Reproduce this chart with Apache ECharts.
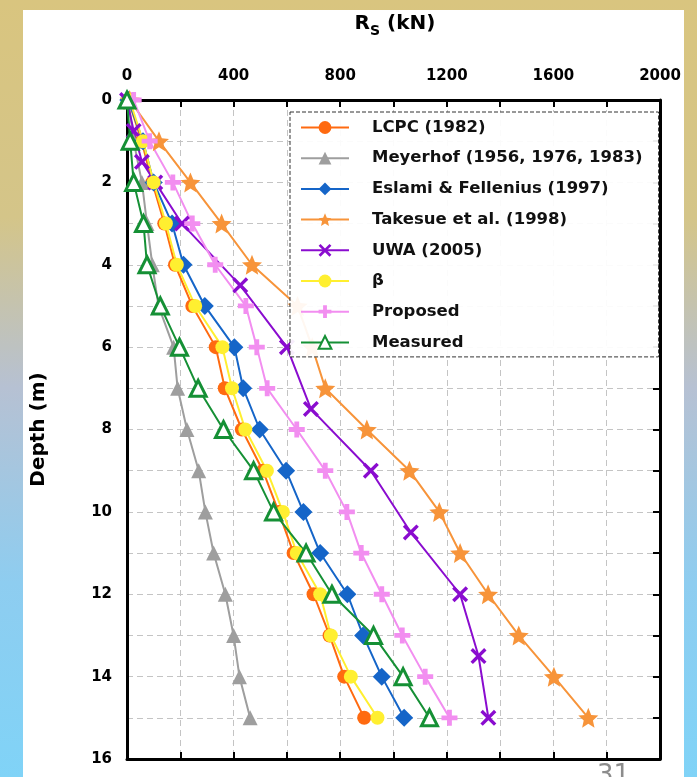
<!DOCTYPE html>
<html>
<head>
<meta charset="utf-8">
<title>Rs vs depth</title>
<script src="https://cdn.jsdelivr.net/npm/echarts@6/dist/echarts.min.js"></script>
<style>
html, body { margin: 0; padding: 0; }
body {
    width: 697px; height: 777px; overflow: hidden; position: relative;
    background: linear-gradient(180deg, #d9c57f 0%, #d4c589 28%, #b6c1d3 50%, #8ecdf0 75%, #80d3f7 100%);
}
#paper { position: absolute; left: 23px; top: 10px; width: 661px; height: 767px; background: #fff; }
#chart { position: absolute; left: 0; top: 0; width: 697px; height: 777px; }
</style>
</head>
<body>
<div id="paper"></div>
<div id="chart"></div>
<script>
// depth (m) of every reading, UWA was sampled every 1.5 m
const depths = [0, 1, 2, 3, 4, 5, 6, 7, 8, 9, 10, 11, 12, 13, 14, 15]
const uwaDepths = [0, 0.75, 1.5, 2, 3, 4.5, 6, 7.5, 9, 10.5, 12, 13.5, 15]

// shaft resistance Rs (kN)
const lcpc     = [5, 55, 95, 140, 180, 245, 333, 367, 431, 510, 569, 625, 700, 760, 815, 890]
const meyerhof = [5, 25, 56, 75, 95, 118, 175, 190, 225, 269, 294, 325, 369, 400, 422, 462]
const eslami   = [5, 60, 100, 169, 212, 292, 403, 436, 498, 597, 662, 725, 827, 886, 956, 1040]
const takesue  = [10, 120, 238, 355, 469, 640, 695, 744, 900, 1060, 1172, 1250, 1355, 1470, 1602, 1731]
const uwa      = [0, 25, 56, 106, 206, 425, 600, 690, 915, 1065, 1250, 1319, 1356]
const beta     = [10, 60, 100, 146, 187, 256, 358, 394, 444, 525, 585, 637, 725, 765, 840, 940]
const proposed = [25, 85, 172, 245, 331, 446, 487, 526, 637, 744, 825, 879, 956, 1033, 1119, 1210]
const measured = [0, 12, 25, 62, 75, 125, 197, 267, 362, 475, 550, 672, 769, 925, 1036, 1135]

const xSymbol = 'path://M3,0 L10,7 L17,0 L20,3 L13,10 L20,17 L17,20 L10,13 L3,20 L0,17 L7,10 L0,3 Z'
const plusSymbol = 'path://M7,0 H13 V7 H20 V13 H13 V20 H7 V13 H0 V7 H7 Z'
const starSymbol = 'path://M10,0 L12.9,7 L20,7.6 L14.6,12.3 L16.2,19.5 L10,15.6 L3.8,19.5 L5.4,12.3 L0,7.6 L7.1,7 Z'

const font = 'DejaVu Sans, sans-serif'

function makeSeries(name, vals, dep, color, symbol, size, extra) {
    return Object.assign({
        name: name,
        type: 'line',
        data: vals.map((v, i) => [v, dep[i]]),
        symbol: symbol,
        symbolSize: size,
        lineStyle: { color: color, width: 2 },
        itemStyle: { color: color },
        z: 3
    }, extra || {})
}

const chart = echarts.init(document.getElementById('chart'))
const option = {
    animation: false,
    title: {
        text: '{a|R}{b|S}{a| (kN)}',
        left: 390,
        top: 9,
        textAlign: 'center',
        textStyle: {
            rich: {
                a: { fontFamily: font, fontSize: 20, fontWeight: 'bold', color: '#000', lineHeight: 24, verticalAlign: 'top' },
                b: { fontFamily: font, fontSize: 14, fontWeight: 'bold', color: '#000', lineHeight: 24, verticalAlign: 'bottom', padding: [11, 0, 0, 0] }
            }
        }
    },
    grid: { left: 127, top: 100, width: 533, height: 659, containLabel: false },
    legend: {
        orient: 'vertical',
        left: 290,
        top: 112,
        padding: [7, 16, 6, 10],
        itemWidth: 48,
        itemHeight: 16,
        itemGap: 13.7,
        selectedMode: false,
        backgroundColor: 'rgba(255,255,255,0.93)',
        borderColor: '#333',
        borderWidth: 1,
        borderType: 'dashed',
        textStyle: { fontFamily: font, fontSize: 16.5, fontWeight: 'bold', color: '#111', padding: [0, 0, 0, 18] },
        z: 5
    },
    xAxis: [
        {
            type: 'value', position: 'top', min: 0, max: 2000, interval: 200,
            axisLine: { show: true, onZero: false, lineStyle: { color: '#000', width: 3 } },
            axisTick: { show: true, inside: true, length: 7, lineStyle: { color: '#000', width: 2 } },
            axisLabel: {
                margin: 16, fontFamily: font, fontSize: 15, fontWeight: 'bold', color: '#000',
                formatter: v => (v % 400 === 0 ? String(v) : '')
            },
            splitLine: { show: true, lineStyle: { color: '#c4c4c4', type: [6, 4], width: 1 } }
        },
        {
            type: 'value', position: 'bottom', min: 0, max: 2000, interval: 200,
            axisLine: { show: true, onZero: false, lineStyle: { color: '#000', width: 3 } },
            axisTick: { show: true, inside: true, length: 7, lineStyle: { color: '#000', width: 2 } },
            axisLabel: { show: false },
            splitLine: { show: false }
        }
    ],
    yAxis: [
        {
            type: 'value', inverse: true, min: 0, max: 16, interval: 1,
            name: 'Depth (m)', nameLocation: 'middle', nameGap: 78, nameRotate: 90,
            nameTextStyle: { fontFamily: font, fontSize: 20, fontWeight: 'bold', color: '#000' },
            axisLine: { show: true, onZero: false, lineStyle: { color: '#000', width: 3 } },
            axisTick: { show: false },
            axisLabel: {
                margin: 15, fontFamily: font, fontSize: 15, fontWeight: 'bold', color: '#000',
                formatter: v => (v % 2 === 0 ? String(v) : '')
            },
            splitLine: { show: true, lineStyle: { color: '#c4c4c4', type: [6, 4], width: 1 } }
        },
        {
            type: 'value', inverse: true, min: 0, max: 16, interval: 1, position: 'right',
            axisLine: { show: true, onZero: false, lineStyle: { color: '#000', width: 3 } },
            axisTick: { show: true, inside: true, length: 7, lineStyle: { color: '#000', width: 2 } },
            axisLabel: { show: false },
            splitLine: { show: false }
        }
    ],
    graphic: [
        {
            type: 'text', left: 597, top: 763,
            style: { text: '31', fontFamily: 'DejaVu Sans, sans-serif', fontSize: 26, fill: '#8c8c8c' }
        }
    ],
    series: [
        makeSeries('LCPC (1982)', lcpc, depths, '#ff6a10', 'circle', 14),
        makeSeries('Meyerhof (1956, 1976, 1983)', meyerhof, depths, '#9e9e9e', 'triangle', 15),
        makeSeries('Eslami & Fellenius (1997)', eslami, depths, '#1565c8', 'diamond', 18),
        makeSeries('Takesue et al. (1998)', takesue, depths, '#f7943a', starSymbol, 20),
        makeSeries('UWA (2005)', uwa, uwaDepths, '#8a0ccf', xSymbol, 16),
        makeSeries('β', beta, depths, '#ffef30', 'circle', 14),
        makeSeries('Proposed', proposed, depths, '#f28ef0', plusSymbol, 16),
        makeSeries('Measured', measured, depths, '#159035', 'triangle', 16, {
            itemStyle: { color: '#ffffff', borderColor: '#159035', borderWidth: 3 }
        })
    ]
}
chart.setOption(option)
</script>
</body>
</html>
